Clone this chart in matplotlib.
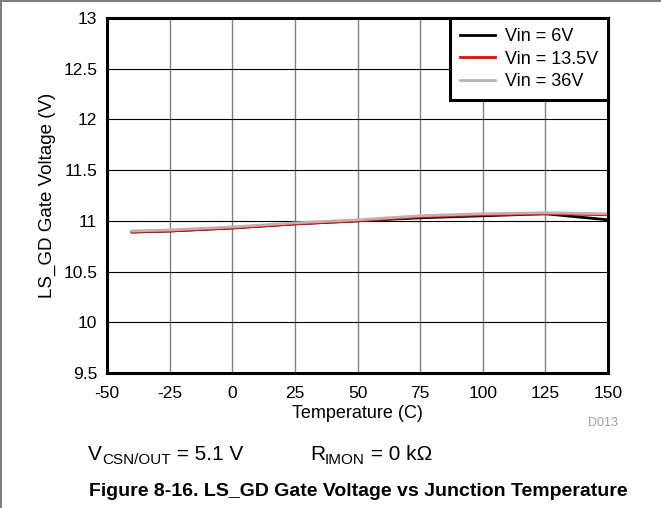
import matplotlib
matplotlib.use("Agg")
import matplotlib.pyplot as plt
from matplotlib.lines import Line2D

plt.rcParams['font.family'] = ['Liberation Sans', 'DejaVu Sans']

temps = [-40, -25, 0, 25, 50, 75, 100, 125, 150]
vin_6 = [10.89, 10.90, 10.93, 10.97, 11.00, 11.03, 11.05, 11.07, 11.01]
vin_13_5 = [10.89, 10.90, 10.93, 10.97, 11.00, 11.04, 11.06, 11.07, 11.06]
vin_36 = [10.90, 10.91, 10.94, 10.98, 11.01, 11.05, 11.07, 11.08, 11.07]

series = [
    ("Vin = 6V", vin_6, "#000000"),
    ("Vin = 13.5V", vin_13_5, "#ff0000"),
    ("Vin = 36V", vin_36, "#b4b4b4"),
]

x_ticks = [-50, -25, 0, 25, 50, 75, 100, 125, 150]
y_ticks = [9.5, 10, 10.5, 11, 11.5, 12, 12.5, 13]
y_labels = ["9.5", "10", "10.5", "11", "11.5", "12", "12.5", "13"]

W, H = 661, 508
fig = plt.figure(figsize=(W / 100, H / 100), dpi=100)
ax = fig.add_axes([107 / W, 1 - 373 / H, 501 / W, 355 / H])

for name, vals, color in series:
    ax.plot(temps, vals, color=color, lw=2.0, label=name)

ax.set_xlim(-50, 150)
ax.set_ylim(9.5, 13)
ax.set_xticks(x_ticks)
ax.set_xticklabels([str(t) for t in x_ticks])
ax.set_yticks(y_ticks)
ax.set_yticklabels(y_labels)
ax.tick_params(length=0, labelsize=12.5)
ax.tick_params(axis="x", pad=9)
ax.tick_params(axis="y", pad=7)

for t in x_ticks[1:-1]:
    ax.axvline(t, color="#808080", lw=1.0, zorder=0)
for v in y_ticks[1:-1]:
    ax.axhline(v, color="#000000", lw=0.8, zorder=0)

for s in ax.spines.values():
    s.set_linewidth(2.2)

ax.set_xlabel("Temperature (C)", fontsize=13, labelpad=3)
ax.set_ylabel("LS_GD Gate Voltage (V)", fontsize=13.5, labelpad=5.5)

leg = ax.legend(loc="upper right", fontsize=13, frameon=True, fancybox=False,
                borderaxespad=0, handlelength=1.95, handletextpad=0.55,
                labelspacing=0.32, borderpad=0.55, framealpha=1)
leg.get_frame().set_edgecolor("black")
leg.get_frame().set_linewidth(2.2)

fig.text(603 / W, 1 - 423 / H, "D013", color="#a0a0a0", fontsize=9,
         ha="center", va="center")


def write_run(x_px, y_px, pieces):
    """Place text pieces side by side; each piece is (text, size, dy_px)."""
    renderer = fig.canvas.get_renderer()
    x = x_px
    for txt, size, dy in pieces:
        t = fig.text(x / W, 1 - (y_px + dy) / H, txt, fontsize=size,
                     ha="left", va="baseline")
        bb = t.get_window_extent(renderer=renderer)
        x += bb.width


write_run(88, 460, [("V", 15, 0), ("CSN/OUT", 11, 4), (" = 5.1 V", 15, 0)])
write_run(310, 460, [("R", 15, 0), ("IMON", 11, 4), (" = 0 k\u03a9", 15, 0)])

fig.text(358 / W, 1 - 492 / H,
         "Figure 8-16. LS_GD Gate Voltage vs Junction Temperature",
         fontsize=14, fontweight="bold", ha="center", va="center")

fig.add_artist(Line2D([0, 1], [1 - 1 / H, 1 - 1 / H], color="#808080",
                      lw=1.5, transform=fig.transFigure))
fig.add_artist(Line2D([1 / W, 1 / W], [0, 1], color="#808080",
                      lw=1.5, transform=fig.transFigure))

fig.savefig("out.png", dpi=100)
